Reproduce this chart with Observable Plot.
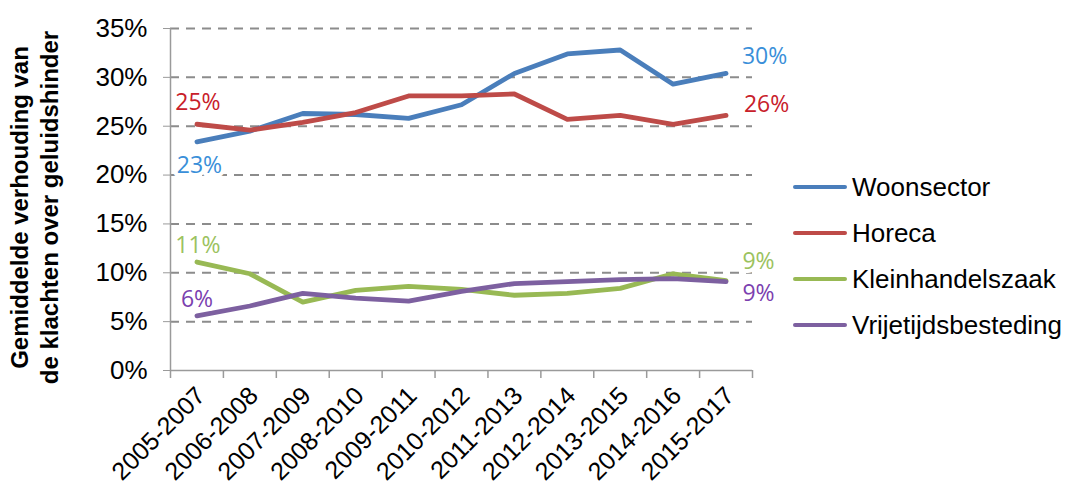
<!DOCTYPE html>
<html><head><meta charset="utf-8">
<script src="https://cdn.jsdelivr.net/npm/d3@7"></script>
<script src="https://cdn.jsdelivr.net/npm/@observablehq/plot@0.6"></script>
<style>
body{margin:0;background:#fff;}
#wrap{position:relative;width:1068px;height:491px;overflow:hidden;background:#fff;}
#chart{position:absolute;left:0;top:0;}
#legend{position:absolute;left:793px;top:164px;font-family:"Liberation Sans",Arial,sans-serif;font-size:26px;color:#000;}
.item{display:flex;align-items:center;height:46px;white-space:nowrap;}
.sw{width:54px;height:4.5px;border-radius:2px;margin-right:5px;flex:none;}
</style></head><body>
<div id="wrap"><div id="chart"></div><div id="legend"></div></div>
<script>
const categories = ["2005-2007","2006-2008","2007-2009","2008-2010","2009-2011","2010-2012","2011-2013","2012-2014","2013-2015","2014-2016","2015-2017"];
const seriesNames = ["Woonsector","Horeca","Kleinhandelszaak","Vrijetijdsbesteding"];
const woonsector = [23.4, 24.5, 26.3, 26.2, 25.8, 27.2, 30.4, 32.4, 32.8, 29.3, 30.4];
const horeca = [25.2, 24.6, 25.4, 26.4, 28.1, 28.1, 28.3, 25.7, 26.1, 25.2, 26.1];
const kleinhandelszaak = [11.1, 9.9, 7.0, 8.2, 8.6, 8.3, 7.7, 7.9, 8.4, 9.9, 9.2];
const vrijetijdsbesteding = [5.6, 6.6, 7.9, 7.4, 7.1, 8.1, 8.9, 9.1, 9.3, 9.4, 9.1];
const yTicks = [0, 5, 10, 15, 20, 25, 30, 35];
const yTitle = "Gemiddelde verhouding van\nde klachten over geluidshinder";

const lineColors = ["#4A7EBB", "#BE4B48", "#98B954", "#7D60A0"];
const labelColors = ["#3A8FD9", "#C8202A", "#9BC25E", "#7B3FAF"];

const values = [woonsector, horeca, kleinhandelszaak, vrijetijdsbesteding];
const rows = seriesNames.flatMap((s, k) => categories.map((c, i) => ({i, category: c, series: s, value: values[k][i]})));
const idx = categories.map((c, i) => i);
const bounds = [...idx.map(i => i - 0.5), categories.length - 0.5];
const fmt = v => Math.round(v) + "%";

function label(series, i, dx, dy) {
  const k = seriesNames.indexOf(series);
  return Plot.text(rows, {
    filter: d => d.series === series && d.i === i,
    x: "i", y: "value", text: d => fmt(d.value),
    dx, dy, fill: labelColors[k],
    fontFamily: "Open Sans", fontSize: 23,
    textAnchor: "middle", lineAnchor: "middle",
    stroke: "white", strokeWidth: 8, paintOrder: "stroke"
  });
}

const last = categories.length - 1;
const chart = Plot.plot({
  width: 790, height: 491,
  marginLeft: 170, marginRight: 38, marginTop: 28, marginBottom: 121,
  style: {fontFamily: "Liberation Sans", background: "white", overflow: "visible"},
  x: {type: "linear", domain: [-0.5, categories.length - 0.5]},
  y: {domain: [0, 35]},
  color: {domain: seriesNames, range: lineColors},
  marks: [
    Plot.ruleY(yTicks.filter(d => d > 0), {stroke: "#8c8c8c", strokeWidth: 2, strokeDasharray: "9,7"}),
    Plot.ruleY([0], {stroke: "#9a9a9a", strokeWidth: 1.5}),
    Plot.ruleX([-0.5], {stroke: "#9a9a9a", strokeWidth: 1.5}),
    Plot.axisY(yTicks, {anchor: "left", tickSize: 7, tickPadding: 16, tickFormat: d => d + "%", fontSize: 26, stroke: "#9a9a9a", fill: "#000", label: null}),
    Plot.axisX(bounds, {anchor: "bottom", tickSize: 8, tickFormat: () => "", stroke: "#9a9a9a", strokeWidth: 1.5, label: null}),
    Plot.axisX(idx, {anchor: "bottom", tickSize: 0, tickPadding: 21, tickRotate: -45, dx: 4, tickFormat: i => categories[i], fontSize: 25, fill: "#000", label: null}),
    Plot.line(rows, {x: "i", y: "value", stroke: "series", z: "series", strokeWidth: 4.8, strokeLinejoin: "round", strokeLinecap: "round"}),
    label("Woonsector", 0, 2.5, 24),
    label("Horeca", 0, 1, -22),
    label("Kleinhandelszaak", 0, 1, -16.5),
    label("Vrijetijdsbesteding", 0, 0, -16),
    label("Woonsector", last, 38.5, -16.5),
    label("Horeca", last, 40.5, -10.5),
    label("Kleinhandelszaak", last, 32.5, -18.5),
    label("Vrijetijdsbesteding", last, 32.5, 12.5),
    Plot.text([yTitle], {frameAnchor: "left", text: d => d, rotate: -90, dx: -137, dy: 8, fontSize: 24, fontWeight: "bold", lineHeight: 1.25, textAnchor: "middle", lineAnchor: "middle", fill: "#000"})
  ]
});
document.getElementById("chart").appendChild(chart);

const legend = document.getElementById("legend");
seriesNames.forEach((s, k) => {
  const item = document.createElement("div");
  item.className = "item";
  const sw = document.createElement("span");
  sw.className = "sw";
  sw.style.background = lineColors[k];
  const t = document.createElement("span");
  t.textContent = s;
  item.appendChild(sw);
  item.appendChild(t);
  legend.appendChild(item);
});
</script>
</body></html>
